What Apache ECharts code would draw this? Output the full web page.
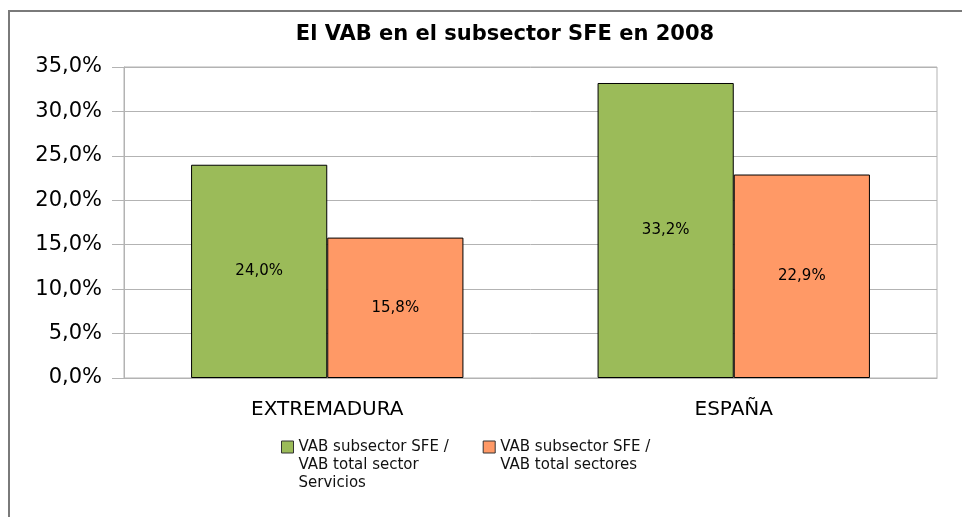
<!DOCTYPE html>
<html>
<head>
<meta charset="utf-8">
<title>El VAB en el subsector SFE en 2008</title>
<script src="https://cdn.jsdelivr.net/npm/echarts@6/dist/echarts.min.js"></script>
<style>
    html, body { margin: 0; padding: 0; background: #fff; }
    #chart { width: 962px; height: 517px; }
</style>
</head>
<body>
<div id="chart"></div>
<script>
/* ===================== 数据 ===================== */
var categories = ['EXTREMADURA', 'ESPAÑA'];
var serieNames = [
    'VAB subsector SFE /\nVAB total sector\nServicios',
    'VAB subsector SFE /\nVAB total sectores'
];
// % del VAB
var valSector = [24.0, 33.2];
var valTotal = [15.8, 22.9];
var yTicks = [0, 5, 10, 15, 20, 25, 30, 35];
/* ===================== end ===================== */

var FONT = 'DejaVu Sans';

function pct(v) {
    return v.toFixed(1).replace('.', ',') + '%';
}

var chart = echarts.init(document.getElementById('chart'), null, { renderer: 'canvas' });

var option = {
    animation: false,
    backgroundColor: '#fff',
    color: ['#9bbb59', '#ff9966'],
    textStyle: { fontFamily: FONT },

    title: {
        text: 'El VAB en el subsector SFE en 2008',
        left: 500,
        textAlign: 'center',
        top: 19,
        textStyle: {
            fontFamily: FONT,
            fontSize: 21,
            fontWeight: 'bold',
            color: '#000'
        }
    },

    // 外框
    graphic: [{
        type: 'rect',
        silent: true,
        shape: { x: 9, y: 11, width: 1000, height: 600 },
        style: { fill: 'none', stroke: '#7a7a7a', lineWidth: 2 }
    }],

    legend: {
        left: 276,
        top: 397,
        icon: 'rect',
        itemWidth: 12,
        itemHeight: 12,
        itemGap: 34,
        itemStyle: { borderColor: '#333', borderWidth: 1 },
        textStyle: {
            fontFamily: FONT,
            fontSize: 15,
            lineHeight: 18,
            color: '#111'
        },
        // 多行图例文字: 前面补空行, 让第一行与色块对齐
        formatter: function (name) {
            var n = name.split('\n').length;
            return new Array(n).join('\n') + name;
        },
        data: serieNames
    },

    grid: {
        left: 124,
        right: 25,
        top: 67,
        bottom: 139,
        show: true,
        borderColor: '#b3b3b3',
        borderWidth: 1,
        backgroundColor: 'transparent'
    },

    xAxis: {
        type: 'category',
        data: categories,
        axisLine: { lineStyle: { color: '#b3b3b3', width: 1 } },
        axisTick: {
            alignWithLabel: true,
            length: 12,
            lineStyle: { color: '#b3b3b3' }
        },
        axisLabel: {
            margin: 22,
            fontFamily: FONT,
            fontSize: 20,
            color: '#000'
        },
        splitLine: { show: false }
    },

    yAxis: {
        type: 'value',
        min: yTicks[0],
        max: yTicks[yTicks.length - 1],
        interval: 5,
        axisLine: { show: true, lineStyle: { color: '#b3b3b3', width: 1 } },
        axisTick: { show: true, length: 12, lineStyle: { color: '#b3b3b3' } },
        axisLabel: {
            margin: 22,
            fontFamily: FONT,
            fontSize: 21,
            color: '#000',
            formatter: function (v) { return pct(v); }
        },
        splitLine: { show: true, lineStyle: { color: '#b3b3b3', width: 1 } }
    },

    series: [{
        name: serieNames[0],
        type: 'bar',
        data: valSector,
        barGap: '0%',
        barCategoryGap: '33%',
        itemStyle: { borderColor: '#000', borderWidth: 1 },
        label: {
            show: true,
            position: 'inside',
            fontFamily: FONT,
            fontSize: 15,
            color: '#000',
            formatter: function (p) { return pct(p.value); }
        }
    }, {
        name: serieNames[1],
        type: 'bar',
        data: valTotal,
        barGap: '0%',
        barCategoryGap: '33%',
        itemStyle: { borderColor: '#000', borderWidth: 1 },
        label: {
            show: true,
            position: 'inside',
            fontFamily: FONT,
            fontSize: 15,
            color: '#000',
            formatter: function (p) { return pct(p.value); }
        }
    }]
};

chart.setOption(option);
</script>
</body>
</html>
